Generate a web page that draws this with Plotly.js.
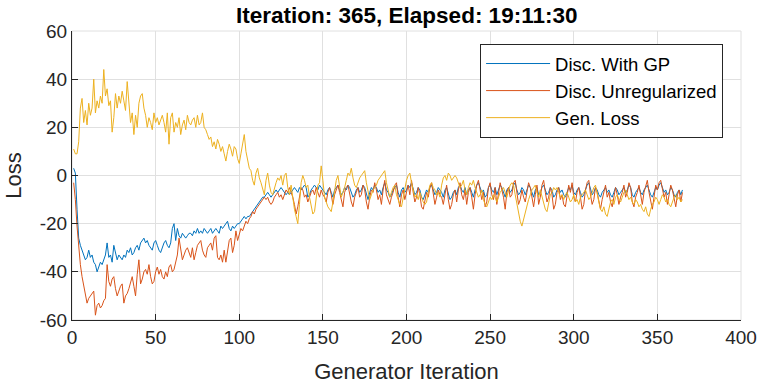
<!DOCTYPE html>
<html>
<head>
<meta charset="utf-8">
<script src="https://cdn.plot.ly/plotly-3.0.1.min.js"></script>
<style>html,body{margin:0;padding:0;background:#fff;}#chart{width:761px;height:385px;}</style>
</head>
<body>
<div id="chart"></div>
<script>
const chartTitle = "Iteration: 365, Elapsed: 19:11:30";
const seriesNames = ["Disc. With GP", "Disc. Unregularized", "Gen. Loss"];
const xTickVals = [0, 50, 100, 150, 200, 250, 300, 350, 400];
const yTickVals = [-60, -40, -20, 0, 20, 40, 60];
const yTickText = ["-60", "-40", "-20", "0", "20", "40", "60"];

const discWithGP = [
  3, 1, -14, -26, -29, -31, -33, -35, -34, -31,
  -34, -33, -36, -37, -40, -38, -36, -37, -35, -33,
  -28, -34, -33, -36, -29, -32, -35, -33, -34, -35,
  -33, -34, -31, -32, -30, -33, -32, -30, -29, -31,
  -28, -27, -26, -28, -27, -29, -30, -31, -28, -27,
  -29, -31, -32, -30, -28, -27, -29, -30, -28, -22,
  -20, -27, -22, -25, -26, -24, -25, -26, -25, -24,
  -24, -25, -23, -24, -22, -24, -23, -24, -22, -23,
  -24, -23, -22, -24, -23, -22, -23, -24, -21, -22,
  -21, -20, -19, -22, -23, -21, -22, -21, -20, -20,
  -19, -18, -17, -18, -17, -17, -16, -15, -14, -13,
  -12, -11, -10, -9, -9, -8, -7, -8, -9, -8,
  -7, -6, -7, -6, -5, -6, -7, -8, -7, -8,
  -7, -6, -5, -6, -7, -5, -6, -5, -4, -5,
  -9, -8, -6, -5, -4, -5, -6, -4, -5, -6,
  -7, -8, -6, -5, -7, -9, -6, -5, -4, -6,
  -8, -7, -5, -6, -4, -5, -7, -9, -8, -6,
  -5, -7, -6, -4, -5, -8, -10, -7, -5, -6,
  -4, -5, -7, -6, -8, -5, -3, -6, -7, -9,
  -8, -6, -5, -4, -7, -9, -6, -5, -7, -6,
  -4, -5, -3, -6, -8, -7, -5, -6, -9, -10,
  -8, -6, -7, -5, -4, -6, -8, -7, -5, -6,
  -7, -9, -6, -5, -8, -10, -9, -7, -6, -8,
  -5, -4, -6, -7, -5, -8, -6, -5, -7, -9,
  -6, -4, -3, -5, -7, -6, -9, -8, -5, -4,
  -6, -7, -5, -8, -6, -4, -5, -7, -9, -6,
  -5, -7, -6, -4, -3, -6, -8, -7, -5, -6,
  -8, -6, -4, -5, -7, -9, -6, -5, -8, -7,
  -5, -4, -6, -8, -7, -5, -6, -9, -8, -6,
  -5, -7, -6, -8, -9, -7, -5, -6, -4, -7,
  -8, -6, -5, -7, -9, -8, -6, -4, -3, -6,
  -8, -7, -5, -6, -8, -9, -7, -6, -5, -7,
  -6, -8, -9, -7, -5, -6, -8, -7, -6, -5,
  -7, -6, -4, -5, -8, -9, -7, -6, -5, -7,
  -8, -6, -5, -4, -6, -8, -9, -7, -5, -6,
  -4, -3, -5, -7, -6, -8, -7, -5, -6, -8,
  -9, -7, -6, -8, -6
];

const discUnregularized = [
  -3, -10, -21, -30, -37, -42, -46, -50, -53, -51,
  -50, -49, -48, -58, -54, -53, -55, -54, -52, -51,
  -37, -44, -46, -43, -42, -47, -50, -48, -46, -45,
  -53, -50, -49, -47, -44, -42, -46, -50, -41, -35,
  -45, -43, -40, -39, -41, -37, -42, -45, -44, -40,
  -38, -41, -39, -42, -43, -40, -42, -38, -37, -40,
  -39, -36, -33, -26, -30, -35, -33, -31, -30, -32,
  -34, -30, -35, -32, -29, -28, -27, -31, -33, -34,
  -30, -29, -28, -31, -26, -25, -34, -35, -33, -36,
  -31, -36, -32, -27, -26, -32, -29, -23, -27, -24,
  -22, -23, -21, -19, -20, -18, -17, -15, -16, -14,
  -13, -12, -11, -10, -9, -10, -9, -11, -12, -11,
  -9, -8, -7, -9, -8, -10, -8, -6, -7, -5,
  -7, -9, -12, -16, -13, -8, -5, -6, -9, -8,
  -11, -9, -7, -6, -8, -5, -7, -9, -6, -8,
  -9, -11, -7, -5, -8, -12, -8, -6, -4, -7,
  -10, -13, -7, -5, -4, -8, -11, -13, -9, -7,
  -5, -9, -8, -4, -6, -11, -14, -9, -6, -7,
  -3, -6, -10, -8, -12, -6, -2, -8, -10, -12,
  -9, -7, -4, -3, -9, -13, -8, -6, -10, -7,
  -4, -8, -2, -7, -11, -9, -5, -8, -13, -14,
  -10, -7, -9, -5, -3, -8, -12, -9, -6, -8,
  -9, -12, -7, -4, -10, -14, -12, -8, -6, -11,
  -6, -3, -8, -10, -6, -12, -7, -5, -9, -14,
  -8, -4, -2, -6, -10, -7, -13, -11, -5, -3,
  -8, -10, -5, -12, -7, -3, -6, -9, -14, -7,
  -5, -9, -8, -3, -2, -8, -12, -10, -6, -9,
  -11, -7, -3, -5, -9, -13, -8, -4, -12, -9,
  -4, -2, -7, -11, -9, -5, -8, -14, -12, -7,
  -5, -10, -8, -12, -13, -9, -4, -7, -3, -9,
  -11, -7, -5, -9, -14, -12, -6, -3, -2, -8,
  -12, -10, -5, -7, -11, -14, -10, -7, -4, -9,
  -7, -11, -13, -9, -5, -8, -12, -9, -7, -4,
  -9, -7, -3, -5, -11, -13, -9, -7, -4, -8,
  -12, -7, -4, -2, -7, -11, -14, -9, -4, -6,
  -3, -2, -5, -9, -7, -12, -8, -4, -6, -10,
  -13, -8, -6, -11, -7
];

const genLoss = [
  11, 9, 9, 14, 28, 32, 22, 27, 21, 30,
  25, 28, 40, 26, 31, 28, 33, 30, 44, 33,
  36, 29, 31, 18, 24, 34, 28, 33, 30, 35,
  31, 27, 39, 29, 22, 26, 17, 25, 20, 30,
  33, 34, 28, 25, 20, 24, 22, 19, 26, 22,
  24, 21, 23, 25, 22, 18, 26, 13, 24, 26,
  18, 22, 20, 24, 17, 21, 23, 19, 25, 22,
  21, 23, 24, 20, 25, 21, 22, 26, 20, 19,
  17, 15, 16, 12, 14, 11, 15, 13, 10, 12,
  9, 6, 10, 13, 11, 8, 12, 11, 7, 5,
  9, 14, 17, 10, 6, 3, 2, -2, -4, 1,
  3, -1, -3, -6, -8, -2, 1, -4, -7, -8,
  -5, -3, -1, -2, 0, -4, 0, 1, -5, -8,
  -4, -10, -14, -17, -20, -12, -3, 0, -2, -5,
  -4, -9, -12, -16, -15, -10, -4, -3, 4, -2,
  -9, -11, -13, -14, -15, -11, -6, -2, 0, -4,
  -9, -7, -5, -2, 1, 0, 3, -1, -4, -5,
  -3, -1, 0, 1, 2, -3, -7, -10, -8, -6,
  -5, -4, -2, -1, 0, 1, 2, -3, -6, -9,
  -7, -5, -4, -8, -10, -12, -13, -9, -5, -2,
  0, 1, -3, -6, -9, -8, -10, -7, -9, -11,
  -12, -11, -7, -4, -3, -5, -6, -8, -7, -9,
  -4, -1, 0, -2, 1, 0, -2, -1, 0, -1,
  -3, -5, -4, -2, -6, -8, -5, -3, -4, -2,
  -5, -7, -9, -8, -6, -10, -12, -13, -11, -9,
  -10, -8, -9, -11, -9, -7, -6, -5, -7, -9,
  -6, -4, -3, -4, -8, -12, -16, -19, -21, -18,
  -15, -13, -10, -8, -6, -5, -4, -7, -9, -6,
  -9, -12, -14, -15, -11, -8, -7, -5, -6, -5,
  -7, -9, -8, -10, -8, -7, -9, -11, -10, -8,
  -11, -10, -12, -9, -8, -7, -6, -8, -10, -9,
  -7, -5, -4, -8, -11, -14, -15, -13, -16, -17,
  -14, -11, -10, -12, -9, -8, -10, -11, -9, -7,
  -6, -8, -10, -9, -11, -12, -10, -11, -13, -12,
  -14, -15, -13, -16, -17, -14, -12, -11, -9, -10,
  -12, -10, -8, -9, -11, -10, -12, -13, -11, -9,
  -8, -10, -9, -11, -10
];

const iterations = genLoss.map((_, i) => i + 1);
const colors = ["#0072BD", "#D95319", "#EDB120"];
const FONT = "Liberation Sans, Arial, Helvetica, sans-serif";
const INK = "#262626";
const GRID = "#e0e0e0";

const traces = [discWithGP, discUnregularized, genLoss].map((ys, k) => ({
  x: iterations,
  y: ys,
  type: "scatter",
  mode: "lines",
  name: seriesNames[k],
  line: { color: colors[k], width: 1 }
}));

const axisCommon = {
  showline: true, linecolor: INK, linewidth: 1, mirror: false,
  ticks: "inside", ticklen: 6, tickcolor: INK, tickwidth: 1,
  showgrid: true, gridcolor: GRID, gridwidth: 1, zeroline: false,
  tickfont: { family: FONT, size: 19, color: INK },
  fixedrange: true
};

const layout = {
  width: 761, height: 385,
  margin: { l: 72, r: 20, t: 31, b: 65 },
  paper_bgcolor: "#ffffff", plot_bgcolor: "#ffffff",
  font: { family: FONT, color: INK },
  title: {
    text: "<b>" + chartTitle + "</b>",
    font: { family: FONT, size: 22.5, color: "#000000" },
    x: 0.5345, xanchor: "center", y: 0.962, yanchor: "middle"
  },
  xaxis: Object.assign({}, axisCommon, {
    range: [0, 400], tickvals: xTickVals,
    title: { text: "Generator Iteration", font: { family: FONT, size: 22, color: INK }, standoff: 16 }
  }),
  yaxis: Object.assign({}, axisCommon, {
    range: [-60, 60], tickvals: yTickVals, ticktext: yTickText,
    title: { text: "Loss", font: { family: FONT, size: 22, color: INK }, standoff: 12 }
  }),
  shapes: [{
    type: "rect", xref: "paper", yref: "paper", x0: 0, x1: 1, y0: 0, y1: 1,
    line: { color: GRID, width: 1 }, fillcolor: "rgba(0,0,0,0)", layer: "below"
  }],
  legend: {
    x: 0.61, y: 0.955, xanchor: "left", yanchor: "top",
    bordercolor: INK, borderwidth: 1, bgcolor: "#ffffff",
    font: { family: FONT, size: 18.5, color: "#000000" },
    itemwidth: 64, tracegroupgap: 0
  },
  showlegend: true
};

Plotly.newPlot("chart", traces, layout, { displayModeBar: false, staticPlot: true });
</script>
</body>
</html>
